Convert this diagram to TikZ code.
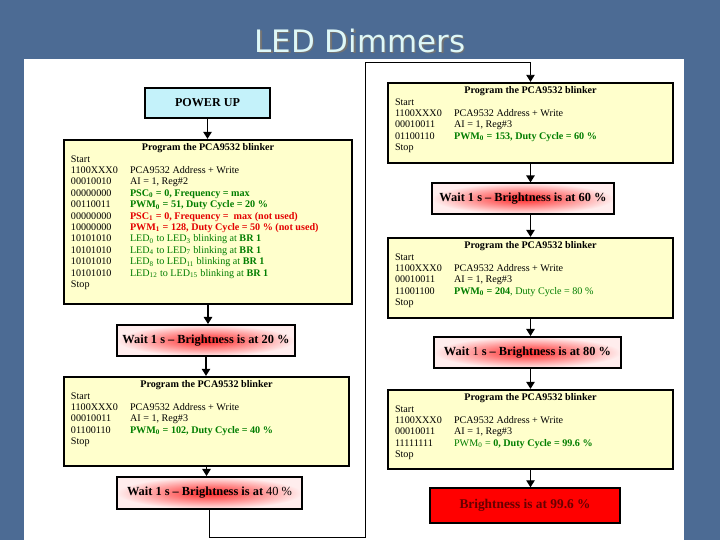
\documentclass[tikz,border=0pt]{standalone}
\usepackage{fontspec}
\setmainfont{Liberation Serif}
\newfontfamily\titlefont{DejaVu Sans}
\usetikzlibrary{arrows.meta,calc}
\definecolor{slideblue}{RGB}{76,107,148}
\definecolor{titlecyan}{RGB}{222,248,248}
\definecolor{progyellow}{RGB}{255,255,204}
\definecolor{pwrcyan}{RGB}{196,242,250}
\definecolor{okgreen}{RGB}{0,125,0}
\definecolor{badred}{RGB}{228,0,0}
\begin{document}
\begin{tikzpicture}[x=0.025cm,y=-0.025cm,
		prog/.style={draw,line width=1.6pt,fill=progyellow,inner sep=0pt},
		progtitle/.style={font=\fontsize{7.2}{8.1}\selectfont\bfseries,inner sep=0pt},
		listing/.style={font=\fontsize{7.2}{8.1}\selectfont,align=left,inner sep=0pt},
		waitbox/.style={draw,line width=1.4pt,inner color=red!85,outer color=red!7,
			font=\fontsize{8.8}{10}\selectfont\bfseries,inner sep=0pt},
		fullbox/.style={draw,line width=1pt,fill=red,text=red!40!black,
			font=\fontsize{9.5}{11}\selectfont\bfseries,inner sep=0pt},
		pwrbox/.style={draw,line width=1.2pt,fill=pwrcyan,
			font=\fontsize{8.6}{10}\selectfont\bfseries,inner sep=0pt},
		slidetitle/.style={font=\titlefont\fontsize{22}{26}\selectfont,anchor=base},
		arr/.style={line width=0.9pt,-{Triangle[width=6pt,length=5pt]}},
		backline/.style={line width=0.6pt,-{Triangle[width=6pt,length=5pt]}}]
	\useasboundingbox (0,0) rectangle (720,540);
	% Nền slide
	\fill[slideblue] (0,0) rectangle (720,540);
	\fill[white] (24,59) rectangle (684,540);
	\node[slidetitle,text=black!55] (titleshadow) at (361.5,53.5) {LED Dimmers};
	\node[slidetitle,text=titlecyan] (title) at (360,52) {LED Dimmers};
	% Cột mã nhị phân
	\def\bits#1{\makebox[42pt][l]{#1}}
	% Tiêu đề và các dòng lệnh trong một hộp
	\def\proglist#1#2{
		\node[progtitle,anchor=base] (#1h) at ([yshift=-8.4pt]#1.north) {Program the PCA9532 blinker};
		\node[listing,anchor=north west] (#1l) at ([shift={(5.6pt,-11.6pt)}]#1.north west) {#2};
	}
	% Cột trái
	\node[pwrbox,minimum width=3.125cm,minimum height=0.75cm] (pwr) at (207.5,103) {POWER UP};
	\node[prog,minimum width=7.2cm,minimum height=4.1cm] (p1) at (208,222) {};
	\proglist{p1}{Start\\
		\bits{1100XXX0}PCA9532 Address + Write\\
		\bits{00010010}AI = 1, Reg\#2\\
		\bits{00000000}\textcolor{okgreen}{\textbf{PSC\textsubscript{0} = 0, Frequency = max}}\\
		\bits{00110011}\textcolor{okgreen}{\textbf{PWM\textsubscript{0} = 51, Duty Cycle = 20 \%}}\\
		\bits{00000000}\textcolor{badred}{\textbf{PSC\textsubscript{1} = 0, Frequency =\ \ max (not used)}}\\
		\bits{10000000}\textcolor{badred}{\textbf{PWM\textsubscript{1} = 128, Duty Cycle = 50 \% (not used)}}\\
		\bits{10101010}\textcolor{okgreen}{LED\textsubscript{0} to LED\textsubscript{3} blinking at \textbf{BR 1}}\\
		\bits{10101010}\textcolor{okgreen}{LED\textsubscript{4} to LED\textsubscript{7} blinking at \textbf{BR 1}}\\
		\bits{10101010}\textcolor{okgreen}{LED\textsubscript{8} to LED\textsubscript{11} blinking at \textbf{BR 1}}\\
		\bits{10101010}\textcolor{okgreen}{LED\textsubscript{12} to LED\textsubscript{15} blinking at \textbf{BR 1}}\\
		Stop}
	\node[waitbox,minimum width=4.45cm,minimum height=0.775cm] (w20) at (206,340.5) {Wait 1 s -- Brightness is at 20 \%};
	\node[prog,minimum width=7.125cm,minimum height=2.225cm] (p2) at (206.5,421.5) {};
	\proglist{p2}{Start\\
		\bits{1100XXX0}PCA9532 Address + Write\\
		\bits{00010011}AI = 1, Reg\#3\\
		\bits{01100110}\textcolor{okgreen}{\textbf{PWM\textsubscript{0} = 102, Duty Cycle = 40 \%}}\\
		Stop}
	\node[waitbox,minimum width=4.625cm,minimum height=0.8cm] (w40) at (209.5,493) {Wait 1 s -- Brightness is at \mdseries 40 \%};
	% Cột phải
	\node[prog,minimum width=7.125cm,minimum height=2cm] (p3) at (530.5,123) {};
	\proglist{p3}{Start\\
		\bits{1100XXX0}PCA9532 Address + Write\\
		\bits{00010011}AI = 1, Reg\#3\\
		\bits{01100110}\textcolor{okgreen}{\textbf{PWM\textsubscript{0} = 153, Duty Cycle = 60 \%}}\\
		Stop}
	\node[waitbox,line width=0.8pt,minimum width=4.55cm,minimum height=0.775cm] (w60) at (523,198.5) {Wait 1 s -- Brightness is at 60 \%};
	\node[prog,minimum width=7.125cm,minimum height=2cm] (p4) at (530.5,278) {};
	\proglist{p4}{Start\\
		\bits{1100XXX0}PCA9532 Address + Write\\
		\bits{00010011}AI = 1, Reg\#3\\
		\bits{11001100}\textcolor{okgreen}{\textbf{PWM\textsubscript{0} = 204}, Duty Cycle = 80 \%}\\
		Stop}
	\node[waitbox,minimum width=4.675cm,minimum height=0.775cm] (w80) at (527.5,352.5) {Wait \mdseries 1 \bfseries s -- Brightness is at 80 \%};
	\node[prog,minimum width=7.125cm,minimum height=1.975cm] (p5) at (530.5,429.5) {};
	\proglist{p5}{Start\\
		\bits{1100XXX0}PCA9532 Address + Write\\
		\bits{00010011}AI = 1, Reg\#3\\
		\bits{11111111}\textcolor{okgreen}{PWM\textsubscript{0} = \textbf{0, Duty Cycle = 99.6 \%}}\\
		Stop}
	\node[fullbox,minimum width=4.75cm,minimum height=0.875cm] (full) at (525,505.5) {Brightness is at 99.6 \%};
	% Mũi tên
	\draw[arr] (pwr.south) -- (pwr.south |- p1.north);
	\draw[arr] (p1.south) -- (p1.south |- w20.north);
	\draw[arr] (w20.south) -- (w20.south |- p2.north);
	\draw[arr] (p2.south) -- (p2.south |- w40.north);
	\draw[arr] (p3.south) -- (p3.south |- w60.north);
	\draw[arr] (p3.south |- w60.south) -- (p3.south |- p4.north);
	\draw[arr] (p4.south) -- (p4.south |- w80.north);
	\draw[arr] (p4.south |- w80.south) -- (p4.south |- p5.north);
	\draw[arr] (p5.south) -- (p5.south |- full.north);
	% Đường quay lại cột phải
	\coordinate (loopA) at (365,537);
	\coordinate (loopB) at (365,62);
	\draw[backline] (w40.south) |- (loopA) -- (loopB) -| (p3.north);
\end{tikzpicture}
\end{document}
